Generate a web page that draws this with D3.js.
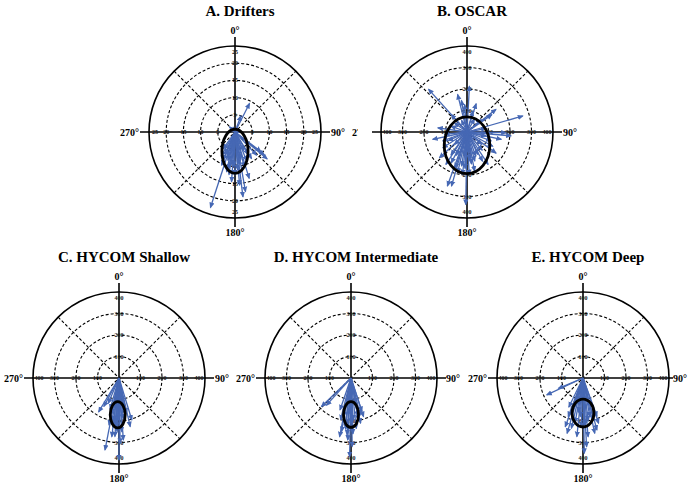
<!DOCTYPE html>
<html>
<head>
<meta charset="utf-8">
<script src="https://cdn.jsdelivr.net/npm/d3@7"></script>
<style>
    body { margin: 0; background: #fff; }
    svg { display: block; }
    text { font-family: "Liberation Serif", "DejaVu Serif", serif; font-weight: bold; }
</style>
</head>
<body>
<svg id="chart" width="691" height="493"></svg>
<script>
// panel titles and ring tick values
var titles = ["A. Drifters", "B. OSCAR", "C. HYCOM Shallow",
    "D. HYCOM Intermediate", "E. HYCOM Deep"];
var driftersRings = [5, 10, 15, 20, 25];
var modelRings = [100, 200, 300, 400];
var compassLabels = ["0°", "90°", "180°", "270°"];

// arrows: direction (deg, clockwise from north) and length
var driftersDir = [27, 20, 313, 340, 95, 130, 128, 127, 137, 148, 163, 173,
    170, 175, 180, 184, 202, 203, 198, 192, 150, 158, 165, 168, 176, 182,
    186, 190, 194, 197, 205, 210, 215, 155, 172, 188];
var driftersMag = [9.3, 5.0, 2.2, 1.5, 1.2, 12.2, 10.8, 9.4, 9.2, 9.1, 14.1,
    19.0, 17.6, 15.5, 12.5, 14.5, 10.4, 8.8, 23.1, 11.8, 7.5, 9.0, 10.5,
    8.0, 11.0, 10.0, 9.5, 11.0, 8.5, 7.5, 7.0, 8.0, 6.0, 6.0, 9.5, 12.5];

var oscarDir = [318, 3, 346, 350, 18, 52, 55, 74, 91, 102, 95, 126, 147,
    200, 181, 278, 258, 227, 193, 186, 177, 169, 318, 213, 152, 119, 306,
    16, 355, 49, 264, 237, 207, 154, 102, 225, 196, 172, 183, 189, 165,
    160, 175, 198, 205, 140, 110, 80, 290, 245, 215, 185, 178, 170, 30,
    335, 250, 130];
var oscarMag = [267, 213, 180, 149, 138, 171, 141, 270, 182, 163, 206, 167,
    180, 267, 337, 137, 163, 175, 195, 199, 198, 185, 110, 180, 154, 137,
    72, 101, 128, 88, 105, 134, 161, 116, 91, 82, 262, 150, 170, 160, 140,
    120, 130, 175, 120, 110, 120, 90, 80, 95, 130, 110, 90, 100, 70, 60,
    120, 90];

var shallowDir = [211, 208, 191, 187, 180, 163, 167, 176, 192, 184, 182,
    177, 187, 181, 168, 192, 203, 172, 179, 185, 174, 189, 196, 170, 183];
var shallowMag = [184, 150, 341, 275, 381, 204, 232, 289, 223, 273, 250,
    250, 228, 195, 168, 168, 128, 150, 304, 210, 190, 200, 150, 175, 230];

var intermediateDir = [226, 222, 191, 190, 181, 179, 166, 162, 170, 174,
    187, 184, 183, 191, 177, 182, 170, 199, 162, 186, 178, 194, 168, 180];
var intermediateMag = [191, 170, 278, 253, 366, 319, 177, 164, 198, 236,
    220, 265, 289, 183, 196, 165, 180, 157, 189, 240, 260, 200, 215, 210];

var deepDir = [245, 247, 196, 193, 186, 200, 179, 175, 168, 165, 161, 184,
    199, 170, 178, 201, 196, 166, 177, 190, 182, 173, 188, 206, 160];
var deepMag = [186, 124, 268, 240, 274, 241, 350, 274, 263, 250, 223, 180,
    165, 183, 219, 192, 138, 201, 320, 210, 230, 200, 160, 150, 190];

// variance ellipses: centre direction, centre distance, semi-axes (x, y)
var ellipseDir = [180, 180, 182, 180, 180];
var ellipseDist = [5.6, 62, 171, 170, 163];
var ellipseRx = [3.8, 106, 35, 35, 51];
var ellipseRy = [6.4, 132, 61, 60, 65];

var svg = d3.select("#chart");
var blue = "#4668b4";
var radius = 86; // px

svg.append("rect").attr("width", 691).attr("height", 493)
    .attr("fill", "#fff");

svg.append("defs").append("marker")
    .attr("id", "head")
    .attr("viewBox", "0 -3 6 6")
    .attr("refX", 5)
    .attr("refY", 0)
    .attr("markerUnits", "userSpaceOnUse")
    .attr("markerWidth", 6)
    .attr("markerHeight", 6)
    .attr("orient", "auto")
    .append("path")
    .attr("d", "M0,-2.6L6,0L0,2.6Z")
    .attr("fill", blue);

// panel B's 270° label is mostly hidden behind panel B
svg.select("defs").append("clipPath")
    .attr("id", "clipB")
    .append("rect")
    .attr("x", -130).attr("y", -20).attr("width", 21).attr("height", 40);

var panels = [
    {cx: 235, cy: 132, rings: driftersRings, dir: driftersDir,
        mag: driftersMag, east: 10},
    {cx: 467, cy: 132, rings: modelRings, dir: oscarDir, mag: oscarMag,
        east: 10, clip: true},
    {cx: 119, cy: 378, rings: modelRings, dir: shallowDir, mag: shallowMag,
        east: 10},
    {cx: 351, cy: 378, rings: modelRings, dir: intermediateDir,
        mag: intermediateMag, east: 9},
    {cx: 583, cy: 378, rings: modelRings, dir: deepDir, mag: deepMag,
        east: 4}
];

var rad = function (deg) {
    return deg * Math.PI / 180;
};

panels.forEach(function (p, i) {
    var g = svg.append("g")
        .attr("transform", "translate(" + p.cx + "," + p.cy + ")");
    var r = d3.scaleLinear()
        .domain([0, d3.max(p.rings)])
        .range([0, radius]);

    g.append("text")
        .attr("x", 5)
        .attr("y", -116)
        .attr("text-anchor", "middle")
        .attr("font-size", 15)
        .text(titles[i]);

    // rings
    g.selectAll("circle.ring")
        .data(p.rings)
        .enter().append("circle")
        .attr("class", "ring")
        .attr("r", function (d) { return r(d); })
        .attr("fill", "none")
        .attr("stroke", "#000")
        .attr("stroke-width", function (d, k) {
            return k === p.rings.length - 1 ? 1.6 : 1.1;
        })
        .attr("stroke-dasharray", function (d, k) {
            return k === p.rings.length - 1 ? null : "3,2";
        });

    // diagonal spokes
    [45, 135].forEach(function (a) {
        var e = d3.pointRadial(rad(a), radius);
        g.append("line")
            .attr("x1", -e[0]).attr("y1", -e[1])
            .attr("x2", e[0]).attr("y2", e[1])
            .attr("stroke", "#000")
            .attr("stroke-width", 1.1)
            .attr("stroke-dasharray", "3,2");
    });

    // main axes
    g.append("line")
        .attr("x1", -radius - 9).attr("x2", radius + Math.min(9, p.east))
        .attr("stroke", "#000").attr("stroke-width", 1.6);
    g.append("line")
        .attr("y1", -radius - 9).attr("y2", radius + 9)
        .attr("stroke", "#000").attr("stroke-width", 1.6);

    // ring labels along the four half axes
    var labelPos = [];
    [0, 90, 180, 270].forEach(function (a) {
        p.rings.forEach(function (v, k) {
            var d = r(v) - (k === p.rings.length - 1 ? 6 : 0);
            var pt = d3.pointRadial(rad(a), d);
            labelPos.push({x: pt[0], y: pt[1], v: v});
        });
    });
    g.selectAll("text.tick")
        .data(labelPos)
        .enter().append("text")
        .attr("class", "tick")
        .attr("x", function (d) { return d.x; })
        .attr("y", function (d) { return d.y + 2; })
        .attr("text-anchor", "middle")
        .attr("font-size", 6)
        .attr("fill", "#1a1a1a")
        .text(function (d) { return d.v; });

    // compass labels
    g.append("text").attr("x", 0).attr("y", -radius - 12)
        .attr("text-anchor", "middle").attr("font-size", 10)
        .text(compassLabels[0]);
    g.append("text").attr("x", radius + p.east).attr("y", 3.5)
        .attr("font-size", 10).text(compassLabels[1]);
    g.append("text").attr("x", 0).attr("y", radius + 18)
        .attr("text-anchor", "middle").attr("font-size", 10)
        .text(compassLabels[2]);
    g.append("text").attr("x", -radius - 10).attr("y", 3.5)
        .attr("text-anchor", "end").attr("font-size", 10)
        .attr("clip-path", p.clip ? "url(#clipB)" : null)
        .text(compassLabels[3]);

    // arrows
    g.selectAll("line.arrow")
        .data(d3.zip(p.dir, p.mag))
        .enter().append("line")
        .attr("class", "arrow")
        .attr("x2", function (d) { return d3.pointRadial(rad(d[0]), r(d[1]))[0]; })
        .attr("y2", function (d) { return d3.pointRadial(rad(d[0]), r(d[1]))[1]; })
        .attr("stroke", blue)
        .attr("stroke-width", 1.3)
        .attr("marker-end", "url(#head)");

    // variance ellipse
    var c = d3.pointRadial(rad(ellipseDir[i]), r(ellipseDist[i]));
    g.append("ellipse")
        .attr("cx", c[0]).attr("cy", c[1])
        .attr("rx", r(ellipseRx[i])).attr("ry", r(ellipseRy[i]))
        .attr("fill", "none")
        .attr("stroke", "#000")
        .attr("stroke-width", 2.8);
});
</script>
</body>
</html>
